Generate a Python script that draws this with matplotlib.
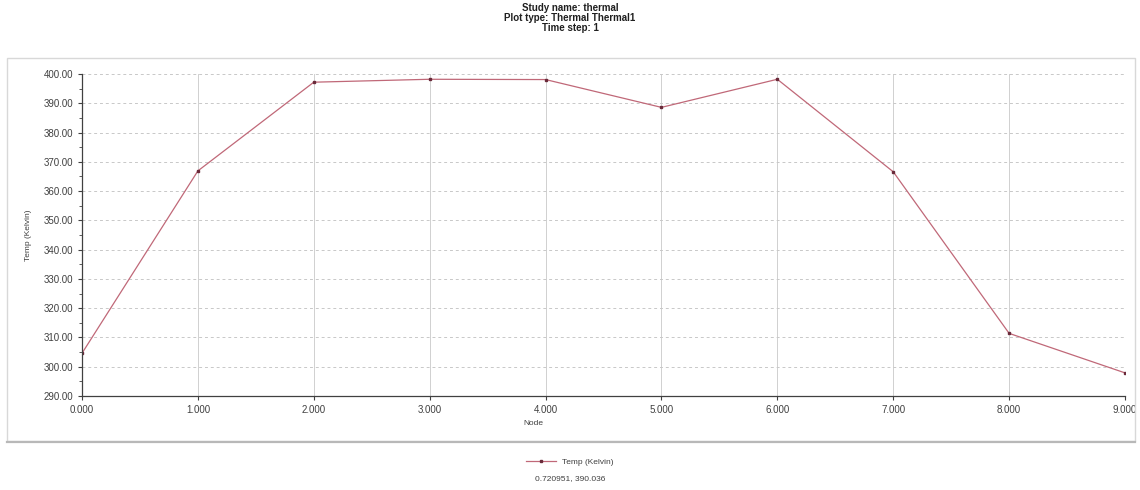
# Thermal study - temperature along nodes, time step 1
import matplotlib.pyplot as plt
from matplotlib.patches import Rectangle
from matplotlib.lines import Line2D

nodes = [0, 1, 2, 3, 4, 5, 6, 7, 8, 9]
temps = [304.6, 366.9, 397.2, 398.2, 398.1, 388.6, 398.2, 366.6, 311.4, 297.9]

y_ticks = [290, 300, 310, 320, 330, 340, 350, 360, 370, 380, 390, 400]
title_lines = ["Study name: thermal", "Plot type: Thermal Thermal1", "Time step: 1"]
cursor_text = "0.720951, 390.036"

plt.rcParams['font.family'] = ['Liberation Sans', 'DejaVu Sans']

fig = plt.figure(figsize=(11.4, 4.9), dpi=100, facecolor='w')

# light panel frame around the plot area
fig.patches.append(Rectangle((7 / 1140, 1 - 441 / 490), 1128 / 1140, 383 / 490,
                             transform=fig.transFigure, fill=False,
                             edgecolor='#d8d8d8', linewidth=1.0))
fig.add_artist(Line2D([7 / 1140, 1135 / 1140], [1 - 442 / 490, 1 - 442 / 490],
                      transform=fig.transFigure, color='#b8b8b8', linewidth=1.6))

ax = fig.add_axes([82 / 1140, 1 - 396 / 490, (1125 - 82) / 1140, (396 - 74) / 490])

ax.plot(nodes, temps, color='#c06878', linewidth=0.9, marker='s', markersize=1.8,
        markerfacecolor='#6a2a3a', markeredgecolor='#6a2a3a', label='Temp (Kelvin)')

ax.set_xlim(0, 9)
ax.set_ylim(290, 400)
ax.set_xticks(nodes)
ax.set_xticklabels(['{:.3f}'.format(n) for n in nodes])
ax.set_yticks(y_ticks)
ax.set_yticklabels(['{:.2f}'.format(t) for t in y_ticks])
ax.set_yticks([295 + 10 * i for i in range(11)], minor=True)
ax.tick_params(axis='both', labelsize=7, colors='#404040', length=3, width=0.8)
ax.tick_params(axis='y', which='minor', length=2, color='#404040')

ax.grid(axis='y', which='major', color='#c8c8c8', linestyle=(0, (3, 3)), linewidth=0.7)
ax.grid(axis='x', which='major', color='#d0d0d0', linestyle='-', linewidth=0.7)

for side in ['top', 'right']:
    ax.spines[side].set_visible(False)
for side in ['left', 'bottom']:
    ax.spines[side].set_color('#404040')
    ax.spines[side].set_linewidth(0.9)

ax.set_ylabel('Temp (Kelvin)', fontsize=6, color='#404040', labelpad=8)
fig.text(533 / 1140, 1 - 423 / 490, 'Node', fontsize=6, color='#404040',
         ha='center', va='center')

fig.text(0.5, 1 - 18 / 490, '\n'.join(title_lines), fontsize=7, fontweight='bold',
         ha='center', va='center', linespacing=1.0, color='#202020')

ax.legend(loc='center', bbox_to_anchor=(570 / 1140, 1 - 462 / 490),
          bbox_transform=fig.transFigure, frameon=False, fontsize=6,
          handlelength=3.5, labelcolor='#404040')

fig.text(570 / 1140, 1 - 479 / 490, cursor_text, fontsize=6, color='#404040',
         ha='center', va='center')

plt.savefig('out.png', dpi=100)
